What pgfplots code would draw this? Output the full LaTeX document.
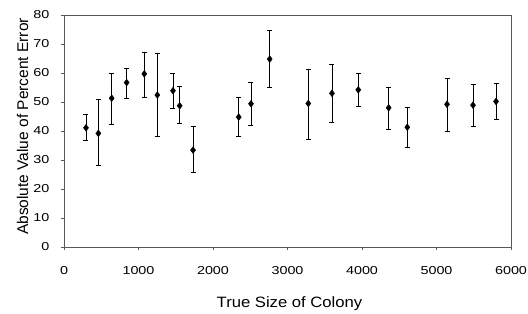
\documentclass[border=0pt]{standalone}
\usepackage{pgfplots}
\pgfplotsset{compat=1.18}
\usepackage{pgfplotstable}
\usepackage{fontspec}
\setmainfont{Liberation Sans}[FakeStretch=1.11]
\newfontfamily\plainfont{Liberation Sans}
\newfontfamily\tickfont{Liberation Sans}[FakeStretch=1.25]
\pgfplotstableread{
x y ep em
295 41.1 4.8 4.4
461 39.2 11.6 10.9
640 51.3 8.6 9.0
841 56.7 5.0 5.3
1078 59.7 7.6 8.0
1253 52.4 14.4 14.4
1463 53.9 6.0 6.2
1553 48.7 6.6 6.1
1732 33.4 8.1 7.8
2345 44.8 6.7 6.8
2510 49.4 7.3 7.3
2761 64.8 10.0 9.9
3279 49.5 11.9 12.3
3597 53.0 9.9 10.0
3950 54.2 5.8 5.7
4358 48.0 7.1 7.3
4608 41.3 6.7 6.8
5141 49.2 8.8 9.3
5490 48.9 7.2 7.4
5799 50.2 6.2 6.1
}\datatable
\begin{document}
\begin{tikzpicture}
\begin{axis}[
  scale only axis, width=447pt, height=232pt,
  xmin=0, xmax=6000, ymin=0, ymax=80,
  xtick={0,1000,...,6000}, ytick={0,10,...,80},
  axis line style={black!65, line width=0.7pt},
  tick style={black!65, line width=0.5pt},
  tick align=outside, major tick length=3pt,
  xtick pos=bottom, ytick pos=left,
  /pgf/number format/assume math mode=true,
  /pgf/number format/set thousands separator={},
  ticklabel style={font=\tickfont\fontsize{11.5}{13}\selectfont},
  xticklabel style={anchor=center, yshift=-21pt},
  yticklabel style={anchor=east, xshift=-8pt},
  xlabel={True Size of Colony}, ylabel={\plainfont Absolute Value of Percent Error},
  xlabel style={font=\fontsize{15}{17}\selectfont, at={(axis description cs:0.5,0)}, anchor=center, xshift=2pt, yshift=-57pt},
  ylabel style={font=\fontsize{15.5}{17}\selectfont, at={(axis description cs:0,0.5)}, anchor=center, xshift=4.5pt, yshift=41.5pt},
  clip=false,
]
\addplot[only marks, mark=diamond*, mark size=3.4pt, black,
  error bars/.cd, y dir=both, y explicit,
  error bar style={black, line width=0.7pt},
  error mark options={black, rotate=90, mark size=2.5pt, line width=0.6pt}]
  table[x=x, y=y, y error plus=ep, y error minus=em] {\datatable};
\coordinate (sw) at (rel axis cs:0,0);
\coordinate (ne) at (rel axis cs:1,1);
\end{axis}
\pgfresetboundingbox
\path (sw) ++(-64pt,-67pt) coordinate (bb1);
\path (ne) ++(17pt,15pt) coordinate (bb2);
\useasboundingbox (bb1) rectangle (bb2);
\end{tikzpicture}
\end{document}
